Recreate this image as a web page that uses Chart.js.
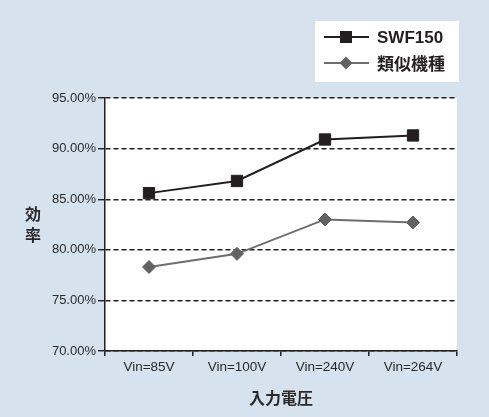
<!DOCTYPE html>
<html>
<head>
<meta charset="utf-8">
<script src="https://cdn.jsdelivr.net/npm/chart.js@4/dist/chart.umd.min.js"></script>
<style>
  html,body{margin:0;padding:0;background:#d6e2ee;}
  #wrap{width:489px;height:417px;position:relative;}
</style>
</head>
<body>
<div id="wrap"><canvas id="chart" width="489" height="417"></canvas></div>
<script>
// data
const categories = ['Vin=85V','Vin=100V','Vin=240V','Vin=264V'];
const swf150 = [85.6, 86.8, 90.9, 91.3];
const similarModel = [78.3, 79.6, 83.0, 82.7];
const seriesNames = ['SWF150','類似機種'];
const yTicks = [70, 75, 80, 85, 90, 95];
const xTitle = '入力電圧';
const yTitle = '効率';

const FONT = '"Liberation Sans", Arial, "Noto Sans CJK JP", sans-serif';
const CJK = '"Noto Sans CJK JP", "Liberation Sans", sans-serif';
const INK = '#231f20';

// white plot area
const plotBg = {
  id:'plotBg',
  beforeDraw(chart){
    const {ctx, chartArea:a} = chart;
    ctx.save();
    ctx.fillStyle = '#fff';
    ctx.fillRect(a.left, a.top, a.right-a.left, a.bottom-a.top);
    ctx.restore();
  }
};

// upright stacked y title
const yTitlePlugin = {
  id:'yTitle',
  afterDraw(chart){
    const {ctx, chartArea:a} = chart;
    const chars = [...yTitle];
    const step = 21;
    const mid = (a.top+a.bottom)/2;
    ctx.save();
    ctx.font = 'bold 16px '+CJK;
    ctx.fillStyle = '#2a2a2a';
    ctx.textAlign = 'center';
    ctx.textBaseline = 'middle';
    chars.forEach((ch,i)=>{
      ctx.fillText(ch, 33, mid + (i-(chars.length-1)/2)*step);
    });
    ctx.restore();
  }
};

function drawMarker(ctx, style, x, y, size, color){
  ctx.fillStyle = color;
  ctx.beginPath();
  if(style==='rect'){
    ctx.rect(x-size/2, y-size/2, size, size);
  } else {
    const r = size/2;
    ctx.moveTo(x, y-r); ctx.lineTo(x+r, y); ctx.lineTo(x, y+r); ctx.lineTo(x-r, y);
    ctx.closePath();
  }
  ctx.fill();
}

// boxed legend, one row per series
const boxLegend = {
  id:'boxLegend',
  afterDraw(chart){
    const ctx = chart.ctx;
    ctx.save();
    ctx.fillStyle = '#fff';
    ctx.fillRect(315, 21, 144, 61);
    chart.data.datasets.forEach((ds,i)=>{
      const y = 37 + i*26;
      ctx.strokeStyle = ds.borderColor;
      ctx.lineWidth = 2;
      ctx.beginPath(); ctx.moveTo(324, y); ctx.lineTo(369, y); ctx.stroke();
      drawMarker(ctx, ds.pointStyle, 346, y, ds.pointStyle==='rect'?12:13, ds.pointBackgroundColor);
      ctx.fillStyle = INK;
      ctx.font = (i===0 ? 'bold 17px '+FONT : 'bold 17px '+CJK);
      ctx.textBaseline = 'middle';
      ctx.fillText(ds.label, 377, y+1);
    });
    ctx.restore();
  }
};

new Chart(document.getElementById('chart'), {
  type:'line',
  data:{
    labels:categories,
    datasets:[
      {label:seriesNames[0], data:swf150, borderColor:INK, borderWidth:2,
       pointStyle:'rect', pointRadius:8, pointBackgroundColor:INK, pointBorderColor:INK, pointBorderWidth:1},
      {label:seriesNames[1], data:similarModel, borderColor:'#6e6e6e', borderWidth:2,
       pointStyle:'rectRot', pointRadius:6.5, pointBackgroundColor:'#626262', pointBorderColor:'#626262', pointBorderWidth:1}
    ]
  },
  options:{
    responsive:false,
    animation:false,
    devicePixelRatio:1,
    layout:{padding:{left:0, top:98, right:32, bottom:0}},
    plugins:{legend:{display:false}, tooltip:{enabled:false}},
    scales:{
      x:{
        offset:true,
        afterFit(s){ s.height = 66; },
        grid:{offset:true, drawOnChartArea:false, drawTicks:true, tickLength:5, color:INK, lineWidth:1.5},
        border:{color:INK, width:1.5},
        ticks:{color:'#2a2a2a', padding:3, font:{family:FONT, size:13.5}},
        title:{display:true, text:xTitle, color:'#2a2a2a', padding:{top:0,bottom:9},
               font:{family:CJK, size:16, weight:'bold'}}
      },
      y:{
        min:yTicks[0], max:yTicks[yTicks.length-1],
        afterFit(s){ s.width = 105; },
        afterBuildTicks(s){ s.ticks = yTicks.map(v=>({value:v})); },
        grid:{color:INK, lineWidth:1.4, tickLength:7, tickColor:INK},
        border:{color:INK, width:1.5, dash:[5,3]},
        ticks:{color:'#2a2a2a', padding:2, font:{family:FONT, size:13},
               callback:v=>Number(v).toFixed(2)+'%'}
      }
    }
  },
  plugins:[plotBg, yTitlePlugin, boxLegend]
});
</script>
</body>
</html>
